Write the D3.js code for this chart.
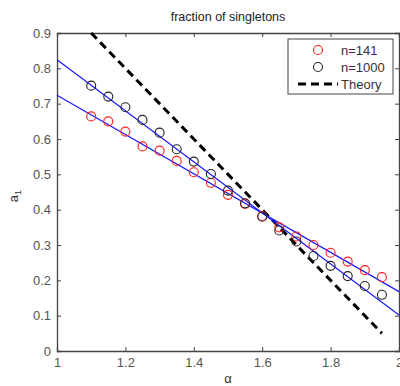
<!DOCTYPE html>
<html>
<head>
<meta charset="utf-8">
<script src="https://d3js.org/d3.v7.min.js"></script>
<style>
body { margin: 0; background: #fff; }
text { font-family: "Liberation Sans", Arial, sans-serif; }
</style>
</head>
<body>
<div id="chart"></div>
<script>
var alphas = [1.1, 1.15, 1.2, 1.25, 1.3, 1.35, 1.4, 1.45, 1.5, 1.55, 1.6, 1.65, 1.7, 1.75, 1.8, 1.85, 1.9, 1.95];
var n141 = [0.664, 0.65, 0.621, 0.579, 0.567, 0.538, 0.506, 0.476, 0.442, 0.416, 0.382, 0.35, 0.324, 0.300, 0.278, 0.253, 0.229, 0.209];
var n1000 = [0.751, 0.72, 0.69, 0.654, 0.618, 0.571, 0.536, 0.501, 0.454, 0.418, 0.380, 0.341, 0.31, 0.269, 0.241, 0.212, 0.184, 0.159];
var fitX = [1, 2];
var fit141 = [0.724, 0.168];
var fit1000 = [0.824, 0.102];
var theoryX = [1.1, 1.95];
var theoryY = [0.9, 0.05];
var xTicks = [1, 1.2, 1.4, 1.6, 1.8, 2];
var yTicks = [0, 0.1, 0.2, 0.3, 0.4, 0.5, 0.6, 0.7, 0.8, 0.9];

var width = 400, height = 386;
var plotLeft = 57, plotTop = 33, plotRight = 399, plotBottom = 351;

var svg = d3.select('#chart').append('svg')
	.attr('width', width)
	.attr('height', height);

var x = d3.scaleLinear().domain([1, 2]).range([plotLeft, plotRight]);
var y = d3.scaleLinear().domain([0, 0.9]).range([plotBottom, plotTop]);

var axisColor = '#444';
var tickLen = 4;

// axes with inward ticks, on all four sides
var xAxis = svg.append('g').attr('transform', 'translate(0,' + plotBottom + ')')
	.call(d3.axisBottom(x).tickValues(xTicks).tickSize(-tickLen).tickPadding(7)
		.tickFormat(function(d){ return d3.format('~g')(d); }));
var yAxis = svg.append('g').attr('transform', 'translate(' + plotLeft + ',0)')
	.call(d3.axisLeft(y).tickValues(yTicks).tickSize(-tickLen).tickPadding(6)
		.tickFormat(function(d){ return d3.format('~g')(d); }));
var xTop = svg.append('g').attr('transform', 'translate(0,' + plotTop + ')')
	.call(d3.axisTop(x).tickValues(xTicks).tickSize(-tickLen).tickFormat(''));
var yRight = svg.append('g').attr('transform', 'translate(' + plotRight + ',0)')
	.call(d3.axisRight(y).tickValues(yTicks).tickSize(-tickLen).tickFormat(''));

[xAxis, yAxis, xTop, yRight].forEach(function(a){
	a.select('.domain').attr('stroke', axisColor).attr('stroke-width', 1.3);
	a.selectAll('.tick line').attr('stroke', axisColor);
	a.selectAll('.tick text').attr('fill', '#555').style('font-size', '13px');
});

// theory dashed line
svg.append('line')
	.attr('x1', x(theoryX[0])).attr('y1', y(theoryY[0]))
	.attr('x2', x(theoryX[1])).attr('y2', y(theoryY[1]))
	.style('stroke', '#000')
	.style('stroke-width', 3)
	.style('stroke-dasharray', '8,5');

// fitted lines
[fit141, fit1000].forEach(function(f){
	svg.append('line')
		.attr('x1', x(fitX[0])).attr('y1', y(f[0]))
		.attr('x2', x(fitX[1])).attr('y2', y(f[1]))
		.style('stroke', '#1a1aff')
		.style('stroke-width', 1.2);
});

// markers
function drawPoints(vals, color){
	svg.append('g').selectAll('circle').data(vals).enter().append('circle')
		.attr('cx', function(d, i){ return x(alphas[i]); })
		.attr('cy', function(d){ return y(d); })
		.attr('r', 4.5)
		.style('fill', 'none')
		.style('stroke', color)
		.style('stroke-width', 1.1);
}
drawPoints(n141, '#ff2020');
drawPoints(n1000, '#222');

// title and labels
svg.append('text')
	.attr('x', 228).attr('y', 21)
	.attr('text-anchor', 'middle')
	.style('font-size', '12.5px')
	.attr('fill', '#222')
	.text('fraction of singletons');

svg.append('text')
	.attr('x', 228).attr('y', 383)
	.attr('text-anchor', 'middle')
	.style('font-size', '13px')
	.attr('fill', '#333')
	.text('α');

var ylab = svg.append('text')
	.attr('transform', 'translate(18,' + 196 + ') rotate(-90)')
	.attr('text-anchor', 'middle')
	.style('font-size', '13px')
	.attr('fill', '#333');
ylab.append('tspan').text('a');
ylab.append('tspan').attr('dy', 3).style('font-size', '9px').text('1');

// legend
var legend = svg.append('g');
legend.append('rect')
	.attr('x', 288).attr('y', 39)
	.attr('width', 105).attr('height', 55)
	.style('fill', '#fff')
	.style('stroke', '#444')
	.style('stroke-width', 1);
var legItems = [
	{label: 'n=141', color: '#ff2020', type: 'circle'},
	{label: 'n=1000', color: '#222', type: 'circle'},
	{label: 'Theory', color: '#000', type: 'dash'}
];
legItems.forEach(function(it, i){
	var ly = 50 + i * 17;
	if (it.type == 'circle') {
		legend.append('circle')
			.attr('cx', 318).attr('cy', ly)
			.attr('r', 4.5)
			.style('fill', 'none')
			.style('stroke', it.color)
			.style('stroke-width', 1.1);
	} else {
		legend.append('line')
			.attr('x1', 298).attr('y1', ly)
			.attr('x2', 338).attr('y2', ly)
			.style('stroke', it.color)
			.style('stroke-width', 3)
			.style('stroke-dasharray', '8,5');
	}
	legend.append('text')
		.attr('x', 341).attr('y', ly + 4.5)
		.style('font-size', '13px')
		.attr('fill', '#333')
		.text(it.label);
});
</script>
</body>
</html>
